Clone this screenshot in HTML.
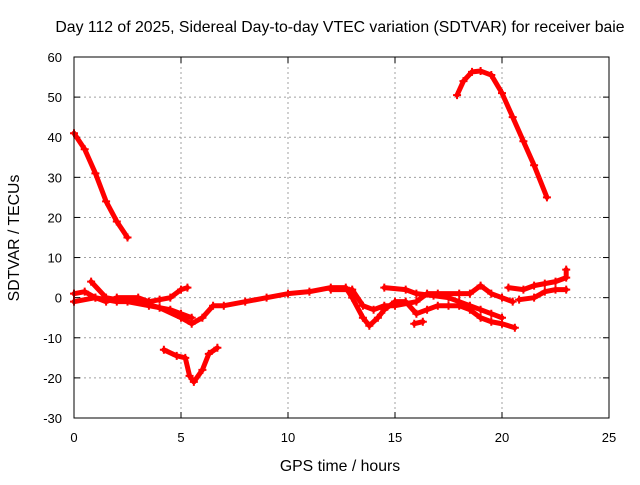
<!DOCTYPE html>
<html><head><meta charset="utf-8"><style>
body{margin:0;background:#fff}
svg{font-family:"Liberation Sans",sans-serif;font-size:13px}
</style></head><body>
<svg id="c" width="640" height="480" xmlns="http://www.w3.org/2000/svg">
<text x="340" y="32" text-anchor="middle" font-size="15.8">Day 112 of 2025, Sidereal Day-to-day VTEC variation (SDTVAR) for receiver baie</text>
<text x="340" y="471" text-anchor="middle" font-size="15.8">GPS time / hours</text>
<text transform="translate(19,238) rotate(-90)" text-anchor="middle" font-size="15.8">SDTVAR / TECUs</text>
<g id="grid"></g><g id="marks"></g>
<rect x="74" y="57" width="535" height="361" fill="none" stroke="#000" stroke-width="1"/>
</svg>
<script>
const xTicks=[0,5,10,15,20,25];
const yTicks=[-30,-20,-10,0,10,20,30,40,50,60];
const arcMorning=[[0,41],[0.5,37],[1,31],[1.5,24],[2,19],[2.5,15]];
const arcEvening=[[17.9,50.5],[18.2,54],[18.6,56.3],[19,56.5],[19.5,55.5],[20,51],[20.5,45],[21,39],[21.5,33],[22.1,25]];
const dip=[[4.2,-13],[4.8,-14.5],[5.2,-15],[5.4,-19.5],[5.6,-21],[6,-18],[6.3,-14],[6.7,-12.5]];
const band1=[[0,-1],[1,0],[2,-1],[3,-1],[4,-2.5],[5,-5],[5.5,-6.5],[6,-5],[6.5,-2],[7,-2],[8,-1],[9,0],[10,1],[11,1.5],[12,2.5],[12.7,2.5],[13,0],[13.5,-5],[13.8,-7],[14.2,-5],[14.5,-3],[15,-1],[15.5,-1],[16,-4],[16.5,-3],[17,-2],[17.5,-2],[18,-2],[18.5,-3],[19,-5],[19.5,-6],[20,-6.5],[20.6,-7.5]];
const band2=[[0,1],[0.5,1.5],[1,0],[1.5,-1],[2,0],[3,0],[3.5,-1],[4,-0.5],[4.5,0],[5,2],[5.3,2.5]];
const band3=[[0.8,4],[1.5,0],[2.5,-1],[3.5,-2],[4.5,-3],[5,-4],[5.5,-5]];
const band4=[[12,2],[13,2],[13.5,-2],[14,-3],[14.5,-2],[15,-2],[16,-1],[16.5,1],[17,1],[18,1],[18.5,1],[19,3],[19.5,1],[20,0],[20.5,-1]];
const band5=[[14.5,2.5],[15.5,2],[16,1],[16.8,0.5],[17.5,0],[18,-1],[18.5,-2],[19,-3],[19.5,-4],[20,-5]];
const band6=[[15.9,-6.5],[16.3,-6]];
const band7=[[20.3,2.5],[21,2],[21.5,3],[22,3.5],[22.5,4],[23,5],[23,7]];
const band8=[[20.8,-0.5],[21.5,0],[22,1.5],[22.5,2],[23,2]];
const series=[arcMorning,arcEvening,dip,band1,band2,band3,band4,band5,band6,band7,band8];
const X=t=>74+t*(535/25), Y=v=>418-(v+30)*(361/90);
const NS='http://www.w3.org/2000/svg';
const grid=document.getElementById('grid'), marks=document.getElementById('marks');
function mk(tag,attrs,parent){const e=document.createElementNS(NS,tag);for(const k in attrs)e.setAttribute(k,attrs[k]);parent.appendChild(e);return e;}
xTicks.forEach(t=>{
 const x=X(t);
 if(t>0&&t<25){const g=mk('line',{x1:x,x2:x,y1:57,y2:418,stroke:'#a0a0a0','stroke-dasharray':'2,3'},grid);
 
 }
 mk('line',{x1:x,x2:x,y1:418,y2:412,stroke:'#000'},grid);mk('line',{x1:x,x2:x,y1:57,y2:63,stroke:'#000'},grid);
 const l=mk('text',{x:x,y:442,'text-anchor':'middle'},grid);l.textContent=t;
 
 
});
yTicks.forEach(v=>{
 const y=Y(v);
 if(v>-30&&v<60){const g=mk('line',{x1:74,x2:609,y1:y,y2:y,stroke:'#a0a0a0','stroke-dasharray':'2,3'},grid);
 
 }
 mk('line',{x1:74,x2:80,y1:y,y2:y,stroke:'#000'},grid);mk('line',{x1:609,x2:603,y1:y,y2:y,stroke:'#000'},grid);
 const l=mk('text',{x:62,y:y+5,'text-anchor':'end'},grid);l.textContent=v;
 
 
});
series.forEach(s=>{
 const p=mk('polyline',{points:s.map(d=>X(d[0])+','+Y(d[1])).join(' '),fill:'none',stroke:'#ff0000','stroke-width':5,'stroke-linejoin':'round','stroke-linecap':'round'},marks);
 
 
 s.forEach(d=>{const x=X(d[0]),y=Y(d[1]);
  const m=mk('path',{d:`M${x-4},${y}H${x+4}M${x},${y-4}V${y+4}`,stroke:'#ff0000','stroke-width':2},marks);
  
  
 });
});
</script>
</body></html>
